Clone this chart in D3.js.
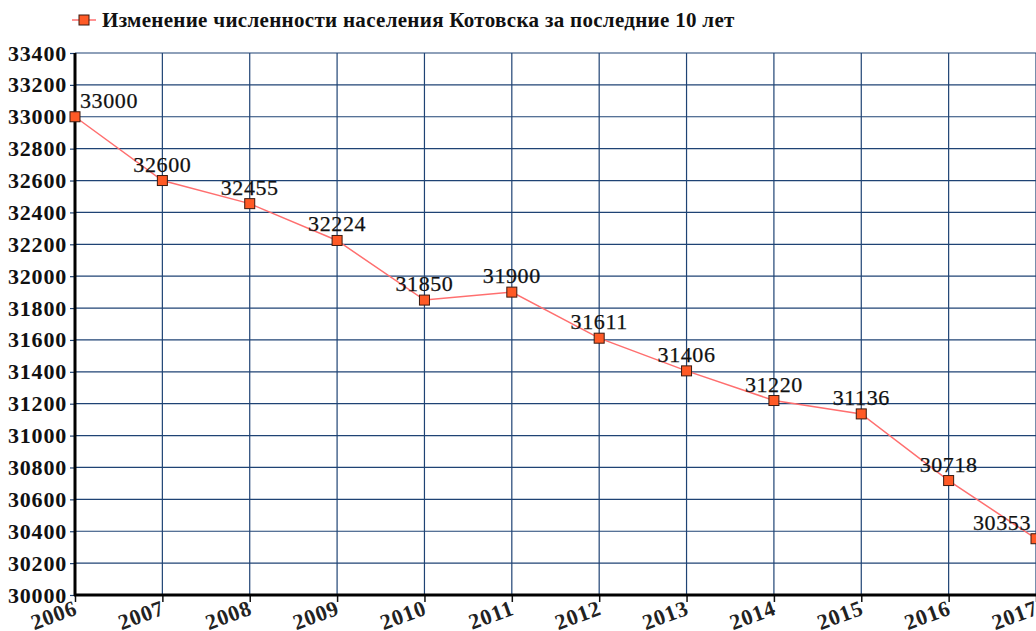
<!DOCTYPE html>
<html><head><meta charset="utf-8">
<script src="https://cdn.jsdelivr.net/npm/d3@7"></script>
<style>body{margin:0;background:#fff}svg{display:block}</style>
</head><body>
<svg id="c" width="1036" height="631"></svg>
<script>
const years = [2006,2007,2008,2009,2010,2011,2012,2013,2014,2015,2016,2017];
const population = [33000,32600,32455,32224,31850,31900,31611,31406,31220,31136,30718,30353];
const yTicks = d3.range(30000, 33401, 200);
const legendLabel = "Изменение численности населения Котовска за последние 10 лет";

(function(){
const svg = d3.select("#c");
const mL = 75, mR = 1036, mT = 53, mB = 595;
const x = d3.scaleLinear().domain([2006, 2017]).range([mL, mR]);
const y = d3.scaleLinear().domain([30000, 33400]).range([mB, mT]);
const font = "'Liberation Serif','Times New Roman',serif";
const grid = "#1f4374";

svg.append("g").selectAll("line").data(yTicks.filter(d=>d>30000)).join("line")
  .attr("x1", mL).attr("x2", mR).attr("y1", d=>y(d)).attr("y2", d=>y(d))
  .attr("stroke", grid).attr("stroke-width", 1.2);
svg.append("g").selectAll("line").data(years.slice(1)).join("line")
  .attr("x1", d=>x(d)).attr("x2", d=>x(d)).attr("y1", mT).attr("y2", mB)
  .attr("stroke", grid).attr("stroke-width", 1.2);

const ya = svg.append("g").attr("transform", `translate(${mL},0)`)
  .call(d3.axisLeft(y).tickValues(yTicks).tickSize(5).tickPadding(3).tickFormat(d3.format("d")));
ya.select(".domain").remove();
ya.selectAll(".tick line").attr("stroke", grid).attr("stroke-width", 1.2);
ya.selectAll("text").attr("font-family", font).attr("font-size", 22).attr("font-weight", "bold")
  .attr("letter-spacing", 0.8).attr("fill", "#111");

const xa = svg.append("g").attr("transform", `translate(0,${mB})`)
  .call(d3.axisBottom(x).tickValues(years).tickSize(7).tickFormat(d3.format("d")));
xa.select(".domain").remove();
xa.selectAll(".tick line").attr("stroke", "#111").attr("stroke-width", 1.5);
xa.selectAll("text").attr("font-family", font).attr("font-size", 22).attr("font-weight", "bold").attr("fill", "#222")
  .attr("letter-spacing", 0.8)
  .attr("text-anchor", "end").attr("dy", null).attr("y", 0)
  .attr("transform", "translate(3,19) rotate(-20)");

svg.append("line").attr("x1", mL).attr("x2", mL).attr("y1", mT).attr("y2", mB+1)
  .attr("stroke", "#000").attr("stroke-width", 3);
svg.append("line").attr("x1", mL-1).attr("x2", mR).attr("y1", mB).attr("y2", mB)
  .attr("stroke", "#000").attr("stroke-width", 3);

const data = years.map((yr,i)=>({yr, v: population[i]}));
svg.append("path").datum(data)
  .attr("d", d3.line().x(d=>x(d.yr)).y(d=>y(d.v)))
  .attr("fill", "none").attr("stroke", "#ff6f6f").attr("stroke-width", 1.5);

svg.append("g").selectAll("rect").data(data).join("rect")
  .attr("x", d=>x(d.yr)-5).attr("y", d=>y(d.v)-5).attr("width", 10).attr("height", 10)
  .attr("fill", "#ff5a26").attr("stroke", "#3a1a10").attr("stroke-width", 1);

svg.append("g").selectAll("text").data(data).join("text")
  .attr("x", (d,i)=> i===0 ? x(d.yr)+5 : i===data.length-1 ? x(d.yr)-5 : x(d.yr))
  .attr("y", d=>y(d.v)-9)
  .attr("text-anchor", (d,i)=> i===0 ? "start" : i===data.length-1 ? "end" : "middle")
  .attr("font-family", font).attr("font-size", 22).attr("fill", "#111")
  .attr("stroke", "#111").attr("stroke-width", 0.25).attr("letter-spacing", 0.6)
  .text(d=>d.v);

const lg = svg.append("g");
lg.append("line").attr("x1", 72).attr("x2", 96).attr("y1", 20).attr("y2", 20).attr("stroke", "#ff6f6f").attr("stroke-width", 1.5);
lg.append("rect").attr("x", 79).attr("y", 15).attr("width", 10).attr("height", 10)
  .attr("fill", "#ff5a26").attr("stroke", "#3a1a10");
lg.append("text").attr("x", 102).attr("y", 27).attr("font-family", font).attr("font-size", 21)
  .attr("font-weight", "bold").attr("fill", "#111").attr("letter-spacing", 0.3).text(legendLabel);
})();
</script>
</body></html>
